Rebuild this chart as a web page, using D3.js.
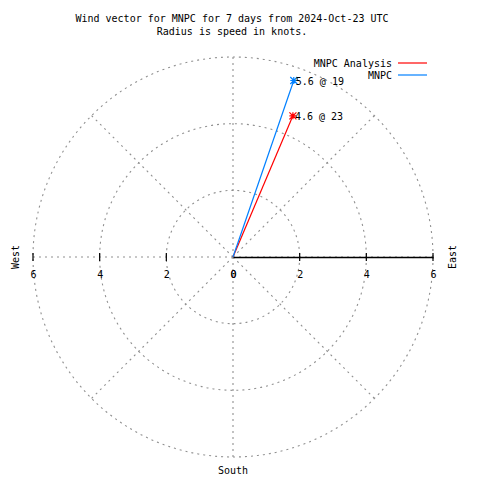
<!DOCTYPE html>
<html><head><meta charset="utf-8">
<script src="https://cdn.jsdelivr.net/npm/d3@7"></script>
<style>body{margin:0;background:#fff}svg{display:block}text{font-family:"DejaVu Sans Mono",monospace;font-size:10px;fill:#000}</style>
</head><body>
<script>
const titleLines = ["Wind vector for MNPC for 7 days from 2024-Oct-23 UTC", "Radius is speed in knots."];
const seriesNames = ["MNPC Analysis", "MNPC"];
const seriesColors = ["#ff0000", "#0080ff"];
const speeds = [4.6, 5.6];
const directions = [23, 19];
const rTicks = [2, 4, 6];
const axisLabels = [0, 2, 4, 6];
const gridAngles = [0, 45, 90, 135, 180, 225, 270, 315];

const W = 480, H = 480, cx = 233, cy = 257;
const svg = d3.select("body").append("svg").attr("width", W).attr("height", H);
const r = d3.scaleLinear().domain([0, 6]).range([0, 200]);
const pt = (s, deg) => [cx + r(s) * Math.sin(deg * Math.PI / 180), cy - r(s) * Math.cos(deg * Math.PI / 180)];
const gridStyle = g => g.attr("stroke", "#909090").attr("stroke-width", 1.1).attr("stroke-dasharray", "2,4").attr("fill", "none");

// circles
svg.selectAll("circle.grid").data(rTicks).join("circle").attr("class", "grid")
  .attr("cx", cx).attr("cy", cy).attr("r", d => r(d)).call(gridStyle);
// radial lines
svg.selectAll("line.rad").data(gridAngles).join("line").attr("class", "rad")
  .attr("x1", cx).attr("y1", cy)
  .attr("x2", d => pt(6, d)[0]).attr("y2", d => pt(6, d)[1]).call(gridStyle);

// axis (right solid)
const axisG = svg.append("g").attr("transform", `translate(${cx},${cy})`);
axisG.call(d3.axisBottom(r).tickValues(axisLabels).tickSize(0).tickFormat(d3.format("d")));
axisG.select(".domain").attr("stroke", "#000").attr("stroke-width", 1.3);
axisG.selectAll(".tick text").attr("y", 14).attr("dy", "0.71em").style("font-family", "DejaVu Sans Mono").style("font-size", "10px");
// left labels
const rl = d3.scaleLinear().domain([0, 6]).range([0, -200]);
const axisL = svg.append("g").attr("transform", `translate(${cx},${cy})`);
axisL.call(d3.axisBottom(rl).tickValues(axisLabels).tickSize(0).tickFormat(d3.format("d")));
axisL.select(".domain").remove();
axisL.selectAll(".tick text").attr("y", 14).attr("dy", "0.71em").style("font-family", "DejaVu Sans Mono").style("font-size", "10px");
// tick marks
svg.selectAll("line.tk").data(rTicks.flatMap(d => [d, -d])).join("line").attr("class", "tk")
  .attr("x1", d => cx + (d > 0 ? r(d) : -r(-d))).attr("x2", d => cx + (d > 0 ? r(d) : -r(-d)))
  .attr("y1", cy - 4).attr("y2", cy + 4).attr("stroke", "#000").attr("stroke-width", 1.2);

// vectors
speeds.forEach((s, i) => {
  const [x, y] = pt(s, directions[i]);
  svg.append("line").attr("x1", cx).attr("y1", cy).attr("x2", x).attr("y2", y)
    .attr("stroke", seriesColors[i]).attr("stroke-width", 1.2);
  const st = 3.5;
  const p = `M${x - st},${y}H${x + st}M${x},${y - st}V${y + st}M${x - st},${y - st}L${x + st},${y + st}M${x - st},${y + st}L${x + st},${y - st}`;
  svg.append("path").attr("d", p).attr("stroke", seriesColors[i]).attr("stroke-width", 1.2);
  svg.append("text").attr("x", x + 2).attr("y", y + 4).text(`${s} @ ${directions[i]}`);
});

// legend
seriesNames.forEach((n, i) => {
  const y = 63 + i * 12;
  svg.append("text").attr("x", 392).attr("y", y + 4).attr("text-anchor", "end").text(n);
  svg.append("line").attr("x1", 398).attr("x2", 427).attr("y1", y).attr("y2", y)
    .attr("stroke", seriesColors[i]).attr("stroke-width", 1.2);
});

// titles
titleLines.forEach((t, i) => svg.append("text").attr("x", 232).attr("y", 22 + i * 13).attr("text-anchor", "middle").text(t));
svg.append("text").attr("x", 233).attr("y", 474).attr("text-anchor", "middle").text("South");
svg.append("text").attr("transform", "translate(19,257) rotate(-90)").attr("text-anchor", "middle").text("West");
svg.append("text").attr("transform", "translate(456,257) rotate(-90)").attr("text-anchor", "middle").text("East");
</script>
</body></html>
